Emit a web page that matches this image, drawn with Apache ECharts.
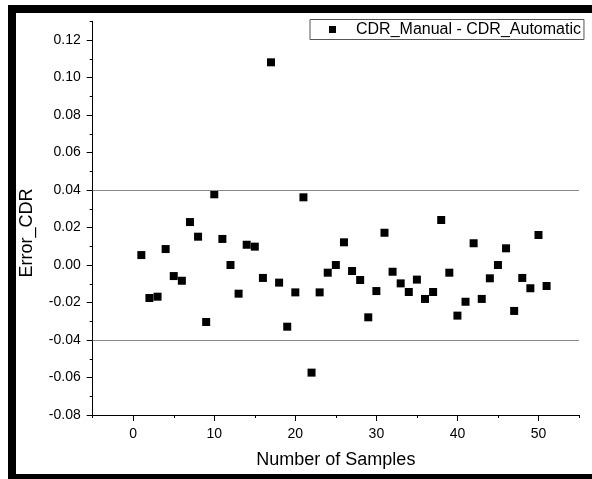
<!DOCTYPE html>
<html>
<head>
<meta charset="utf-8">
<script src="https://cdn.jsdelivr.net/npm/echarts@6/dist/echarts.min.js"></script>
<style>
html,body{margin:0;padding:0;background:#fff;}
#chart{width:592px;height:479px;}
</style>
</head>
<body>
<div id="chart"></div>
<script>
const seriesName = 'CDR_Manual - CDR_Automatic';
const sampleNumbers = [1,2,3,4,5,6,7,8,9,10,11,12,13,14,15,16,17,18,19,20,21,22,23,24,25,26,27,28,29,30,31,32,33,34,35,36,37,38,39,40,41,42,43,44,45,46,47,48,49,50,51];
const errorCDR = [0.0053,-0.0176,-0.0169,0.0085,-0.0059,-0.0084,0.0229,0.0151,-0.0304,0.0377,
  0.0139,0.0000,-0.0153,0.0108,0.0098,-0.0069,0.1081,-0.0094,-0.0329,-0.0146,
  0.0361,-0.0574,-0.0146,-0.0041,0.0000,0.0121,-0.0032,-0.0080,-0.0279,-0.0139,
  0.0172,-0.0036,-0.0098,-0.0144,-0.0078,-0.0181,-0.0144,0.0240,-0.0041,-0.0270,
  -0.0196,0.0116,-0.0181,-0.0071,0.0000,0.0089,-0.0245,-0.0069,-0.0124,0.0160,-0.0112];
const limitValues = [0.04, -0.04];
const xMajorTicks = [0,10,20,30,40,50];
const xMinorTicks = [-5,5,15,25,35,45,55];
const yMajorTicks = [-0.08,-0.06,-0.04,-0.02,0.00,0.02,0.04,0.06,0.08,0.10,0.12];
const yMinorTicks = [-0.07,-0.05,-0.03,-0.01,0.01,0.03,0.05,0.07,0.09,0.11,0.13];
const xAxisName = 'Number of Samples';
const yAxisName = 'Error_CDR';

const font = 'Liberation Sans, Arial, sans-serif';
const chart = echarts.init(document.getElementById('chart'), null, {renderer:'canvas'});
const points = sampleNumbers.map((n,i)=>[n, errorCDR[i]]);

chart.setOption({
  animation:false,
  backgroundColor:'#fff',
  textStyle:{fontFamily:font},
  grid:{left:92.7, right:13, top:21.25, bottom:64, containLabel:false},
  legend:{
    data:[{name:seriesName, icon:'rect'}],
    left:310, top:19.5,
    padding:[2,3,2,19],
    itemWidth:7, itemHeight:7,
    borderColor:'#555', borderWidth:1,
    backgroundColor:'#fff',
    itemStyle:{color:'#000', opacity:1},
    textStyle:{fontFamily:font, fontSize:16, color:'#000', padding:[0,0,0,15]}
  },
  xAxis:[{
    type:'value', position:'bottom', min:-5, max:55,
    name:xAxisName, nameLocation:'middle', nameGap:36,
    nameTextStyle:{fontFamily:font, fontSize:18, color:'#000'},
    axisLine:{show:true, onZero:false, lineStyle:{color:'#000', width:1}},
    axisTick:{show:true, inside:false, length:6, customValues:xMajorTicks, lineStyle:{color:'#000'}},
    axisLabel:{show:true, margin:12, fontFamily:font, fontSize:14, color:'#000', customValues:xMajorTicks,
      formatter:(v)=>String(Math.round(v))},
    splitLine:{show:false}
  },{
    type:'value', position:'bottom', min:-5, max:55,
    axisLine:{show:false, onZero:false},
    axisTick:{show:true, inside:false, length:3, customValues:xMinorTicks, lineStyle:{color:'#000'}},
    axisLabel:{show:false},
    splitLine:{show:false}
  }],
  yAxis:[{
    type:'value', position:'left', min:-0.08, max:0.13,
    axisLine:{show:true, onZero:false, lineStyle:{color:'#000', width:1}},
    axisTick:{show:true, inside:false, length:6, customValues:yMajorTicks, lineStyle:{color:'#000'}},
    axisLabel:{show:true, margin:12, fontFamily:font, fontSize:14, color:'#000', customValues:yMajorTicks,
      formatter:(v)=>v.toFixed(2)},
    splitLine:{show:false}
  },{
    type:'value', position:'left', min:-0.08, max:0.13,
    axisLine:{show:false, onZero:false},
    axisTick:{show:true, inside:false, length:3, customValues:yMinorTicks, lineStyle:{color:'#000'}},
    axisLabel:{show:false},
    splitLine:{show:false}
  }],
  series:[{
    name:seriesName,
    type:'scatter',
    xAxisIndex:0, yAxisIndex:0,
    symbol:'rect', symbolSize:8,
    itemStyle:{color:'#000', opacity:1},
    data:points,
    markLine:{
      silent:true, symbol:['none','none'],
      label:{show:false},
      lineStyle:{color:'#8a8a8a', width:1, type:'solid', opacity:1},
      data:limitValues.map(v=>({yAxis:v}))
    }
  }],
  graphic:[
    {type:'text', x:27, y:233, rotation:Math.PI/2,
      style:{text:yAxisName, fontFamily:font, fontSize:18, fill:'#000', align:'center', verticalAlign:'middle'}},
    {type:'rect', shape:{x:8, y:5, width:584, height:8}, style:{fill:'#000'}},
    {type:'rect', shape:{x:8, y:5, width:8, height:474}, style:{fill:'#000'}},
    {type:'rect', shape:{x:8, y:474, width:584, height:5}, style:{fill:'#000'}}
  ]
});
</script>
</body>
</html>
